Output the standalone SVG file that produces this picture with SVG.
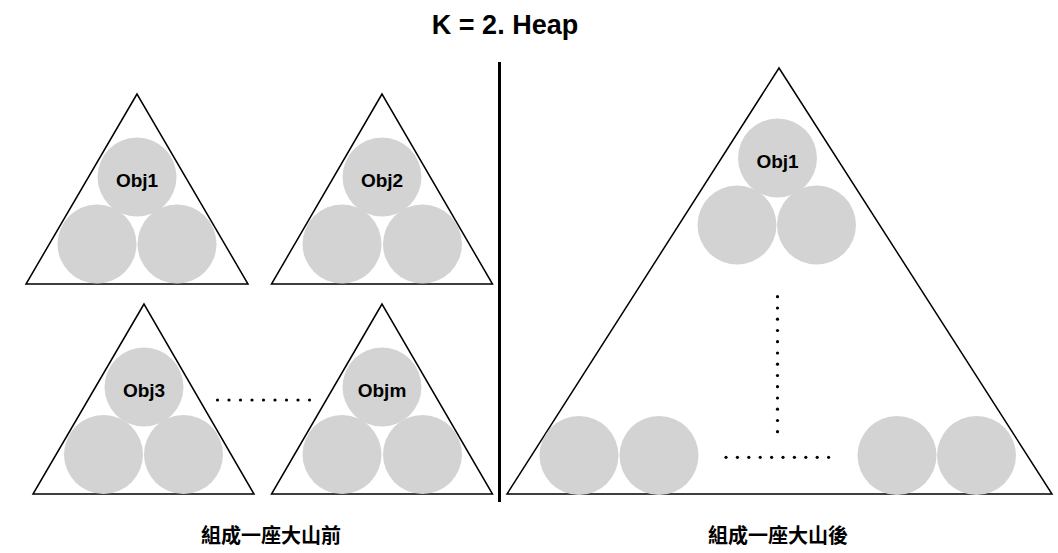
<svg xmlns="http://www.w3.org/2000/svg" width="1058" height="553" viewBox="0 0 1058 553">
<style>
.tri{fill:none;stroke:#000;stroke-width:1.5;stroke-linejoin:miter}
.ball{fill:#d3d3d3}
.lbl{font-family:"Liberation Sans",Arial,sans-serif;font-weight:bold;font-size:19px;fill:#000;text-anchor:middle}
.title{font-family:"Liberation Sans",Arial,sans-serif;font-weight:bold;font-size:27px;fill:#000;text-anchor:middle}
.cap{font-family:"Liberation Sans","Noto Sans CJK TC",sans-serif;font-weight:bold;font-size:20px;fill:#000;text-anchor:middle}
.dot{fill:#000}
</style>
<rect width="1058" height="553" fill="#fff"/>
<text class="title" x="505" y="34">K = 2. Heap</text>

<g id="heap1">
<polygon class="tri" points="137,94 26,284 248,284"/>
<circle class="ball" cx="137" cy="177" r="39.5"/>
<circle class="ball" cx="97" cy="244" r="39.5"/>
<circle class="ball" cx="177" cy="244" r="39.5"/>
<text class="lbl" x="137" y="187">Obj1</text>
</g>
<g id="heap2">
<polygon class="tri" points="382,94 271.5,284 492.5,284"/>
<circle class="ball" cx="382" cy="177" r="39.5"/>
<circle class="ball" cx="342" cy="244" r="39.5"/>
<circle class="ball" cx="422.5" cy="244" r="39.5"/>
<text class="lbl" x="382" y="187">Obj2</text>
</g>
<g id="heap3">
<polygon class="tri" points="144,304 33,494 254,494"/>
<circle class="ball" cx="144" cy="387" r="39.5"/>
<circle class="ball" cx="103.5" cy="454.5" r="39.5"/>
<circle class="ball" cx="183.5" cy="454.5" r="39.5"/>
<text class="lbl" x="144" y="397">Obj3</text>
</g>
<g id="heapm">
<polygon class="tri" points="382,304 271.5,494 492.5,494"/>
<circle class="ball" cx="382" cy="387" r="39.5"/>
<circle class="ball" cx="342" cy="454.5" r="39.5"/>
<circle class="ball" cx="422.5" cy="454.5" r="39.5"/>
<text class="lbl" x="382" y="397">Objm</text>
</g>
<g id="dots-left">
<circle class="dot" cx="217.5" cy="400" r="1.6"/>
<circle class="dot" cx="229" cy="400" r="1.6"/>
<circle class="dot" cx="240.5" cy="400" r="1.6"/>
<circle class="dot" cx="252" cy="400" r="1.6"/>
<circle class="dot" cx="263.5" cy="400" r="1.6"/>
<circle class="dot" cx="275" cy="400" r="1.6"/>
<circle class="dot" cx="286.5" cy="400" r="1.6"/>
<circle class="dot" cx="298" cy="400" r="1.6"/>
<circle class="dot" cx="309.5" cy="400" r="1.6"/>
</g>

<g id="divider">
<line x1="499.5" y1="62" x2="499.5" y2="502" stroke="#000" stroke-width="3"/>
</g>

<g id="big-heap">
<polygon class="tri" points="779,68 507,494 1052,494"/>
<circle class="ball" cx="777.5" cy="158" r="39.5"/>
<circle class="ball" cx="737" cy="225" r="39.5"/>
<circle class="ball" cx="816.5" cy="225" r="39.5"/>
<circle class="ball" cx="579" cy="455.5" r="39.5"/>
<circle class="ball" cx="659" cy="455.5" r="39.5"/>
<circle class="ball" cx="897" cy="455.5" r="39.5"/>
<circle class="ball" cx="976.5" cy="455.5" r="39.5"/>
<text class="lbl" x="777.5" y="168">Obj1</text>
</g>
<g id="dots-vertical">
<circle class="dot" cx="777.5" cy="296.7" r="1.6"/>
<circle class="dot" cx="777.5" cy="308" r="1.6"/>
<circle class="dot" cx="777.5" cy="319.2" r="1.6"/>
<circle class="dot" cx="777.5" cy="330.5" r="1.6"/>
<circle class="dot" cx="777.5" cy="341.7" r="1.6"/>
<circle class="dot" cx="777.5" cy="353" r="1.6"/>
<circle class="dot" cx="777.5" cy="364.2" r="1.6"/>
<circle class="dot" cx="777.5" cy="375.5" r="1.6"/>
<circle class="dot" cx="777.5" cy="386.7" r="1.6"/>
<circle class="dot" cx="777.5" cy="398" r="1.6"/>
<circle class="dot" cx="777.5" cy="409.2" r="1.6"/>
<circle class="dot" cx="777.5" cy="420.5" r="1.6"/>
<circle class="dot" cx="777.5" cy="431.7" r="1.6"/>
</g>
<g id="dots-horizontal">
<circle class="dot" cx="726" cy="457.3" r="1.6"/>
<circle class="dot" cx="737.4" cy="457.3" r="1.6"/>
<circle class="dot" cx="748.8" cy="457.3" r="1.6"/>
<circle class="dot" cx="760.2" cy="457.3" r="1.6"/>
<circle class="dot" cx="771.6" cy="457.3" r="1.6"/>
<circle class="dot" cx="783" cy="457.3" r="1.6"/>
<circle class="dot" cx="794.4" cy="457.3" r="1.6"/>
<circle class="dot" cx="805.8" cy="457.3" r="1.6"/>
<circle class="dot" cx="817.2" cy="457.3" r="1.6"/>
<circle class="dot" cx="828.6" cy="457.3" r="1.6"/>
</g>

<text class="cap" x="271" y="543">組成一座大山前</text>
<text class="cap" x="778" y="543">組成一座大山後</text>
</svg>
